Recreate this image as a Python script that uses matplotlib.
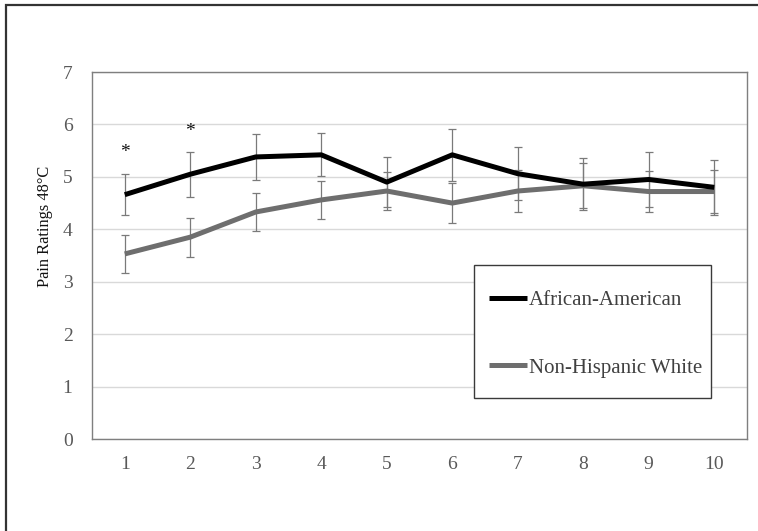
import matplotlib
matplotlib.use("Agg")
import matplotlib.pyplot as plt
from matplotlib.patches import Rectangle

plt.rcParams['font.family'] = ['Liberation Serif', 'DejaVu Serif']

# Trial number (1-10) and mean pain ratings at 48 degrees C
trials = [1, 2, 3, 4, 5, 6, 7, 8, 9, 10]
trial_labels = ["1", "2", "3", "4", "5", "6", "7", "8", "9", "10"]

aa_mean = [4.66, 5.05, 5.38, 5.42, 4.90, 5.42, 5.06, 4.86, 4.95, 4.80]
aa_se = [0.39, 0.43, 0.44, 0.41, 0.48, 0.50, 0.51, 0.50, 0.52, 0.53]

nhw_mean = [3.53, 3.85, 4.33, 4.56, 4.73, 4.50, 4.73, 4.83, 4.72, 4.72]
nhw_se = [0.37, 0.37, 0.37, 0.37, 0.37, 0.38, 0.40, 0.43, 0.39, 0.41]

# Trials with a significant group difference
sig_trials = [1, 2]
sig_heights = [5.46, 5.86]

W, H = 758, 531
fig = plt.figure(figsize=(W / 100, H / 100), dpi=100)

# Outer chart frame
fig.patches.append(Rectangle((6 / W, -0.1), 1.2, 1.1 - 4.5 / H,
                             transform=fig.transFigure, fill=False,
                             edgecolor='#333333', linewidth=1.6))

ax = fig.add_axes([92 / W, 1 - 439 / H, (747 - 92) / W, (439 - 72) / H])

err_kw = dict(fmt='none', ecolor='#7a7a7a', elinewidth=0.9, capsize=2.7,
              capthick=0.9, zorder=2)
ax.errorbar(trials, aa_mean, yerr=aa_se, **err_kw)
ax.errorbar(trials, nhw_mean, yerr=nhw_se, **err_kw)

l_nhw, = ax.plot(trials, nhw_mean, color='#6e6e6e', linewidth=3.6,
                 solid_capstyle='butt', zorder=3, label='Non-Hispanic White')
l_aa, = ax.plot(trials, aa_mean, color='#000000', linewidth=3.6,
                solid_capstyle='butt', zorder=4, label='African-American')

for t, h in zip(sig_trials, sig_heights):
    ax.text(t, h, '*', ha='center', va='center', fontsize=14, color='#111111')

ax.set_xlim(0.5, 10.5)
ax.set_ylim(0, 7)
ax.set_yticks(range(0, 8))
ax.set_xticks(trials)
ax.set_xticklabels(trial_labels)
ax.yaxis.grid(True, color='#d9d9d9', linewidth=1.0)
ax.set_axisbelow(True)
ax.tick_params(axis='both', length=0, labelsize=14, labelcolor='#595959')
ax.tick_params(axis='x', pad=12)
ax.tick_params(axis='y', pad=14)
for s in ax.spines.values():
    s.set_color('#7f7f7f')
    s.set_linewidth(1.0)

ax.set_ylabel('Pain Ratings 48\u00b0C', fontsize=11.8, color='#111111')
ax.yaxis.set_label_coords((53 - 92) / 655, (439 - 226) / 367)

# Legend box drawn as its own frame, entries placed inside it
ax.add_patch(Rectangle((474 / W, 1 - 398 / H), (711 - 474) / W,
                       (398 - 265) / H, transform=fig.transFigure,
                       fill=True, facecolor='white', clip_on=False,
                       edgecolor='#3a3a3a', linewidth=1.0, zorder=5))
leg = ax.legend(handles=[l_aa, l_nhw], loc='upper left',
                bbox_to_anchor=(489 / W, 1 - 290.5 / H),
                bbox_transform=fig.transFigure, frameon=False,
                fontsize=15, borderpad=0.0, labelspacing=2.3,
                handlelength=1.8, handletextpad=0.1, borderaxespad=0.0)
leg.set_zorder(6)
for txt in leg.get_texts():
    txt.set_color('#404040')

fig.savefig('out.png', dpi=100)
